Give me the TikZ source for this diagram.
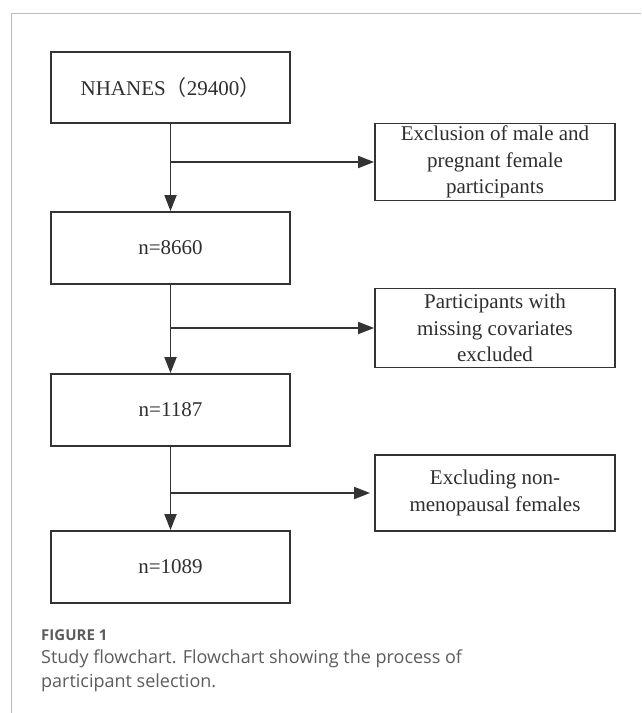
\documentclass[tikz,border=0pt]{standalone}
\usepackage{fontspec}
\setmainfont{Liberation Serif}
\newfontfamily\capfont{Open Sans}
\newfontfamily\cjk{Noto Sans CJK SC}
\usetikzlibrary{arrows.meta}
\definecolor{boxline}{HTML}{333333}
\definecolor{boxtext}{HTML}{2E2E2E}
\definecolor{framegray}{HTML}{BDBDBD}
\definecolor{capgray}{HTML}{5C5C5C}
\begin{document}
\begin{tikzpicture}[x=1pt,y=-1pt,
  box/.style={draw=boxline,line width=1.8pt,minimum width=239pt,inner sep=0pt,
    align=center,text=boxtext,font=\fontsize{21}{26.5}\selectfont},
  arr/.style={draw=boxline,line width=1.8pt,-{Triangle[length=16pt,width=12pt]}},
  capt/.style={anchor=west,inner sep=0pt,text=capgray,align=left}
]
\useasboundingbox (0,0) rectangle (641,713);
\draw[framegray,line width=1pt] (11,713) -- (11,13) -- (641,13);

\node[box,minimum height=71pt] (b1) at (170.5,87.5) {NHANES{\cjk（}29400{\cjk）}};
\node[box,minimum height=72pt] (b2) at (170.5,248) {n=8660};
\node[box,minimum height=72pt] (b3) at (170.5,410) {n=1187};
\node[box,minimum height=72pt] (b4) at (170.5,567) {n=1089};

\node[box,minimum width=240pt,minimum height=77pt] (r1) at (495,162) {Exclusion of male and\\pregnant female\\participants};
\node[box,minimum width=240pt,minimum height=79pt] (r2) at (495,328) {Participants with\\missing covariates\\excluded};
\node[box,minimum width=240pt,minimum height=76pt] (r3) at (495,493) {Excluding non-\\menopausal females};

\coordinate (j1) at (b1.south |- r1.west);
\coordinate (j2) at (b2.south |- r2.west);
\coordinate (j3) at (b3.south |- r3.west);

\draw[arr] (b1.south) -- (b2.north);
\draw[arr] (b2.south) -- (b3.north);
\draw[arr] (b3.south) -- (b4.north);
\draw[arr] (j1) -- (r1.west);
\draw[arr] (j2) -- (r2.west);
\draw[arr,shorten >=4pt] (j3) -- (r3.west);

\node[capt,font=\capfont\bfseries\fontsize{15}{18}\selectfont] (fig) at (41,635) {FIGURE 1};
\node[capt,font=\capfont\fontsize{18}{24}\selectfont] (cap) at (41,671) {Study flowchart. Flowchart showing the process of\\participant selection.};
\end{tikzpicture}
\end{document}
